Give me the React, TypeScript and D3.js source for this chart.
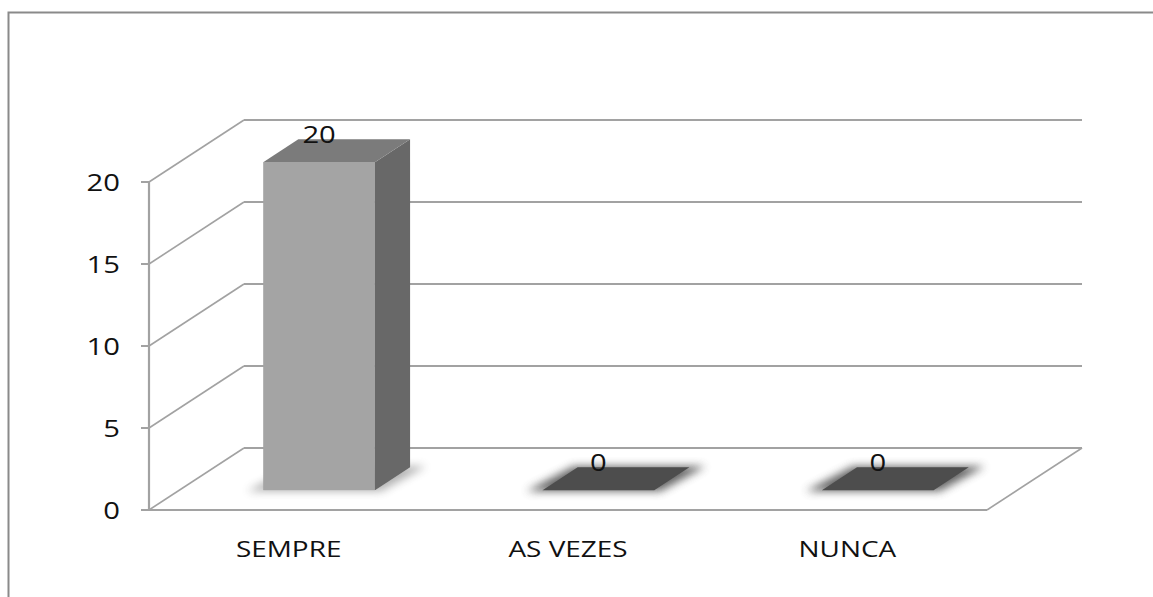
import React from 'react';
import * as d3 from 'd3';

// data
const categories = ['SEMPRE', 'AS VEZES', 'NUNCA'];
const values = [20, 0, 0];
const yTicks = [0, 5, 10, 15, 20];

const W = 1153;
const H = 597;
// front-left corner of the floor, and the 3D depth offset
const left = 149;
const right = 987;
const depthX = 95;
const depthY = -62;
const barFront = 0.32;
const barBack = 0.69;
const font = '"Open Sans", sans-serif';
const stretch = 1.27; // the original was widened

function App() {
    const y = d3.scaleLinear().domain([0, 20]).range([510, 182]);
    const x = d3.scaleBand<string>()
        .domain(categories)
        .range([left, right])
        .paddingInner(0.6)
        .paddingOuter(0.3);
    const bw = x.bandwidth();
    const grid = '#a2a2a2';

    const poly = (pts: [number, number][]) => 'M' + pts.map(p => p.join(',')).join('L') + 'Z';

    return (
        <svg width={W} height={H} style={{ position: 'absolute', left: 0, top: 0, background: '#fff' }}>
            <defs>
                <filter id="blur" x="-30%" y="-100%" width="160%" height="300%">
                    <feGaussianBlur stdDeviation="4" />
                </filter>
            </defs>
            <rect x={8.5} y={12.5} width={W + 20} height={H + 20} fill="none" stroke="#8a8a8a" strokeWidth={2} />

            {/* back wall gridlines and left wall diagonals */}
            {yTicks.map(t => (
                <g key={t}>
                    <line x1={left + depthX} x2={right + depthX} y1={y(t) + depthY} y2={y(t) + depthY} stroke={grid} strokeWidth={2} />
                    <line x1={left} x2={left + depthX} y1={y(t)} y2={y(t) + depthY} stroke={grid} strokeWidth={1.6} />
                    <line x1={left - 8} x2={left} y1={y(t)} y2={y(t)} stroke={grid} strokeWidth={2} />
                    <text
                        transform={`translate(120,${y(t)}) scale(${stretch},1)`}
                        textAnchor="end" dominantBaseline="central"
                        fontFamily={font} fontSize={23} fill="#111">{t}</text>
                </g>
            ))}
            {/* floor front edge, right edge, left axis */}
            <line x1={left} x2={right} y1={y(0)} y2={y(0)} stroke={grid} strokeWidth={2} />
            <line x1={right} x2={right + depthX} y1={y(0)} y2={y(0) + depthY} stroke={grid} strokeWidth={1.6} />
            <line x1={left} x2={left} y1={y(20)} y2={y(0)} stroke={grid} strokeWidth={2.2} />

            {categories.map((c, i) => {
                const v = values[i];
                const x0 = (x(c) as number) + depthX * barFront;
                const x1 = x0 + bw;
                const yb = y(0) + depthY * barFront;
                const yt = y(v) + depthY * barFront;
                const ox = depthX * (barBack - barFront);
                const oy = depthY * (barBack - barFront);
                const foot = poly([[x0 - 16, yb + 1], [x1 + 6, yb + 1], [x1 + ox + 16, yb + oy - 1], [x0 + ox - 4, yb + oy - 1]]);
                return (
                    <g key={c}>
                        <path d={foot} fill="#555" opacity={v === 0 ? 0.9 : 0.45} filter="url(#blur)" />
                        {v > 0 && <rect x={x0} y={yt} width={bw} height={yb - yt} fill="#a4a4a4" />}
                        {v > 0 && <path d={poly([[x1, yt], [x1 + ox, yt + oy], [x1 + ox, yb + oy], [x1, yb]])} fill="#686868" />}
                        <path d={poly([[x0, yt], [x1, yt], [x1 + ox, yt + oy], [x0 + ox, yt + oy]])} fill={v > 0 ? '#7b7b7b' : '#4d4d4d'} />
                        <text
                            transform={`translate(${(x0 + x1) / 2},${yt - 19}) scale(${stretch},1)`}
                            textAnchor="middle" fontFamily={font} fontSize={23} fill="#111">{v}</text>
                        <text
                            transform={`translate(${(x(c) as number) + bw / 2},557) scale(${stretch},1)`}
                            textAnchor="middle" fontFamily={font} fontSize={22} fill="#111">{c}</text>
                    </g>
                );
            })}
        </svg>
    );
}

export default App;
